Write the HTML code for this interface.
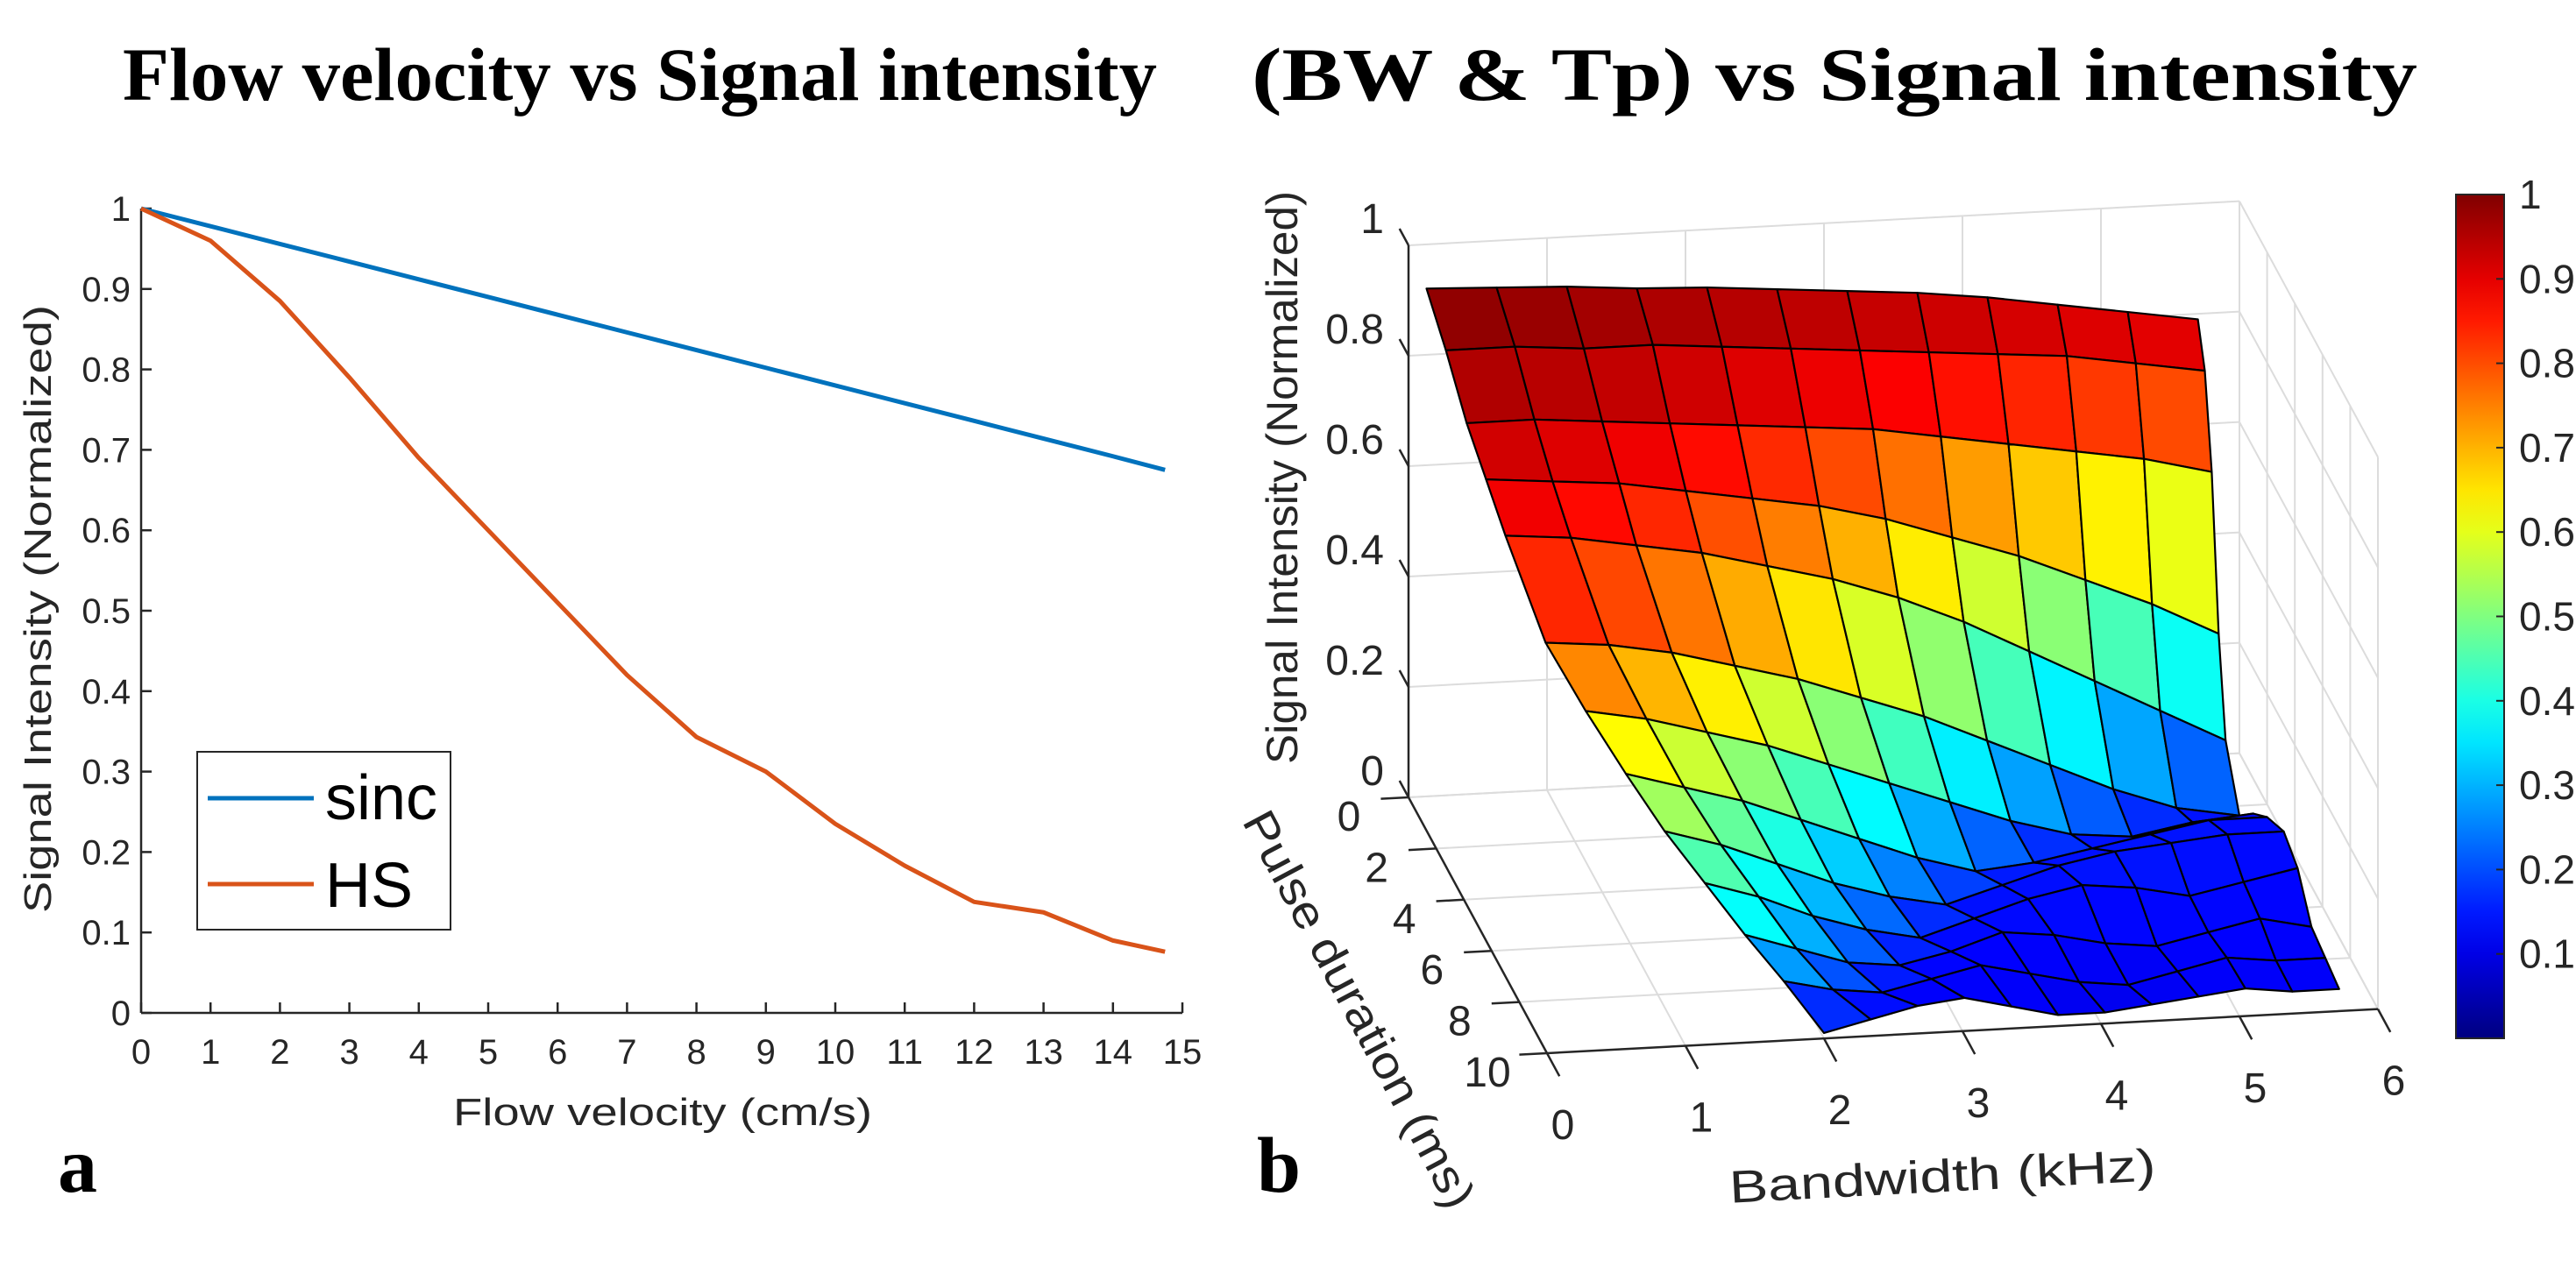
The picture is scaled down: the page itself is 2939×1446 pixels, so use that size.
<!DOCTYPE html>
<html><head><meta charset="utf-8"><style>
html,body{margin:0;padding:0;background:#fff;}
svg{display:block;}
text{font-family:"Liberation Sans",Arial,sans-serif;fill:#262626;}
.ttl{font-family:"Liberation Serif","Times New Roman",serif;font-weight:bold;fill:#000;}
</style></head><body>
<svg id="root" width="2939" height="1446" viewBox="0 0 2939 1446" xmlns="http://www.w3.org/2000/svg">
<text class="ttl" x="730" y="114" font-size="86" text-anchor="middle" textLength="1180" lengthAdjust="spacingAndGlyphs">Flow velocity vs Signal intensity</text>
<text class="ttl" x="2093" y="114" font-size="86" text-anchor="middle" textLength="1330" lengthAdjust="spacingAndGlyphs">(BW &amp; Tp) vs Signal intensity</text>
<text class="ttl" x="66" y="1360" font-size="90">a</text>
<text class="ttl" x="1434" y="1360" font-size="90">b</text>
<g id="left"></g>
<g id="right"></g>
</svg>
<script>
// ---------- Left chart data ----------
const velocities = [0,1,2,3,4,5,6,7,8,9,10,11,12,13,14,14.75];
const sincValues = [1,0.978,0.956,0.934,0.912,0.89,0.868,0.846,0.824,0.802,0.78,0.758,0.736,0.714,0.692,0.675];
const hsValues = [1,0.96,0.885,0.79,0.69,0.6,0.51,0.42,0.343,0.30,0.235,0.183,0.138,0.125,0.09,0.076];
const xTickLabels = ["0","1","2","3","4","5","6","7","8","9","10","11","12","13","14","15"];
const yTickLabels = ["0","0.1","0.2","0.3","0.4","0.5","0.6","0.7","0.8","0.9","1"];

// ---------- Right chart data ----------
const tpRows = [0,0.5,1,1.5,2,3,4,5,6,7,8,9,10];
const bwLeft = [0.13,0.22,0.32,0.41,0.50,0.69,0.88,1.07,1.25,1.44,1.63,1.81,2.0];
const bwRight = [5.7,5.7,5.7,5.7,5.7,5.7,5.7,5.7,5.72,5.72,5.72,5.72,5.72];
const zGrid = [
[.92,.915,.91,.90,.895,.885,.875,.865,.85,.83,.81,.79],
[.83,.83,.82,.82,.81,.80,.79,.78,.77,.76,.74,.72],
[.72,.72,.71,.70,.69,.68,.67,.65,.63,.61,.59,.56],
[.64,.63,.62,.60,.58,.56,.53,.49,.45,.40,.35,.29],
[.56,.55,.53,.51,.48,.45,.41,.36,.30,.24,.18,.12],
[.41,.40,.38,.35,.32,.28,.24,.19,.14,.09,.05,.03],
[.33,.31,.28,.25,.21,.17,.13,.09,.06,.05,.07,.08],
[.26,.23,.20,.16,.12,.08,.05,.06,.08,.10,.12,.12],
[.20,.17,.13,.09,.06,.04,.07,.10,.12,.13,.14,.14],
[.15,.12,.08,.05,.03,.06,.09,.11,.10,.08,.10,.12],
[.10,.07,.04,.03,.05,.08,.07,.05,.04,.06,.08,.06],
[.06,.04,.03,.05,.07,.05,.03,.02,.04,.06,.05,.05],
[.01,.03,.05,.06,.04,.02,.02,.03,.04,.05,.04,.04]];
const cGrid = [
[1.0,.99,.98,.97,.96,.955,.95,.945,.94,.935,.93,.93],
[.97,.97,.96,.95,.94,.93,.92,.91,.90,.89,.88,.87],
[.94,.93,.92,.91,.89,.87,.85,.83,.80,.77,.74,.72],
[.91,.90,.88,.85,.81,.77,.72,.66,.60,.54,.50,.46],
[.88,.86,.83,.79,.74,.69,.63,.56,.49,.41,.33,.25],
[.82,.79,.74,.68,.62,.55,.48,.40,.32,.24,.17,.14],
[.70,.66,.60,.54,.47,.40,.32,.24,.17,.13,.13,.13],
[.60,.55,.49,.42,.35,.27,.19,.14,.13,.14,.14,.13],
[.52,.46,.39,.31,.23,.16,.13,.14,.15,.15,.14,.13],
[.45,.38,.30,.22,.15,.13,.14,.14,.14,.13,.13,.13],
[.38,.30,.21,.14,.12,.13,.13,.12,.12,.13,.13,.12],
[.25,.18,.13,.12,.13,.12,.11,.11,.12,.12,.12,.12],
[.12,.12,.12,.12,.12,.11,.11,.11,.12,.12,.12,.12]];
const zTicks = [0,0.2,0.4,0.6,0.8,1];
const zTickLabels = ["0","0.2","0.4","0.6","0.8","1"];
const tpTicks = [0,2,4,6,8,10];
const tpTickLabels = ["0","2","4","6","8","10"];
const bwTicks = [0,1,2,3,4,5,6];
const bwTickLabels = ["0","1","2","3","4","5","6"];
const cbTicks = [0.1,0.2,0.3,0.4,0.5,0.6,0.7,0.8,0.9,1];
const cbTickLabels = ["0.1","0.2","0.3","0.4","0.5","0.6","0.7","0.8","0.9","1"];

const NS = "http://www.w3.org/2000/svg";
function mk(parent, tag, attrs, text){
  const e = document.createElementNS(NS, tag);
  for (const k in attrs) e.setAttribute(k, attrs[k]);
  if (text !== undefined) e.textContent = text;
  parent.appendChild(e);
  return e;
}

// ===== Left chart =====
(function(){
  const g = document.getElementById('left');
  const X0=161, X1=1349, Y0=1156, Y1=238;
  const sx = v => X0 + (v/15)*(X1-X0);
  const sy = v => Y0 - v*(Y0-Y1);
  let e;
  e = mk(g,'line',{x1:X0,y1:Y0,x2:X1,y2:Y0,stroke:'#262626','stroke-width':2.5});
  
  
  e = mk(g,'line',{x1:X0,y1:Y0,x2:X0,y2:Y1,stroke:'#262626','stroke-width':2.5});
  
  
  xTickLabels.forEach((lab,i)=>{
    const x = sx(i);
    const t = mk(g,'line',{x1:x,y1:Y0,x2:x,y2:Y0-12,stroke:'#262626','stroke-width':2.5});
    
    
    const tx = mk(g,'text',{x:x,y:Y0+58,'font-size':40,'text-anchor':'middle'},lab);
    
    
  });
  yTickLabels.forEach((lab,i)=>{
    const y = sy(i/10);
    const t = mk(g,'line',{x1:X0,y1:y,x2:X0+12,y2:y,stroke:'#262626','stroke-width':2.5});
    
    
    const tx = mk(g,'text',{x:X0-12,y:y+14,'font-size':40,'text-anchor':'end'},lab);
    
    
  });
  e = mk(g,'text',{x:756,y:1284,'font-size':44,'text-anchor':'middle',textLength:478,lengthAdjust:'spacingAndGlyphs'},'Flow velocity (cm/s)');
  
  
  e = mk(g,'text',{x:0,y:0,'font-size':44,'text-anchor':'middle',textLength:694,lengthAdjust:'spacingAndGlyphs',transform:'translate(58,695) rotate(-90)'},'Signal Intensity (Normalized)');
  
  
  const pts = arr => arr.map((v,i)=>sx(velocities[i])+','+sy(v)).join(' ');
  e = mk(g,'polyline',{points:pts(sincValues),fill:'none',stroke:'#0072BD','stroke-width':5,'stroke-linejoin':'round'});
  
  
  e = mk(g,'polyline',{points:pts(hsValues),fill:'none',stroke:'#D95319','stroke-width':5,'stroke-linejoin':'round'});
  
  
  const lg = mk(g,'g',{});
  
  
  mk(lg,'rect',{x:225,y:858,width:289,height:203,fill:'#fff',stroke:'#262626','stroke-width':2});
  e = mk(lg,'line',{x1:237,y1:911,x2:358,y2:911,stroke:'#0072BD','stroke-width':5});
  
  
  mk(lg,'text',{x:371,y:935,'font-size':72,style:'fill:#000'},'sinc');
  e = mk(lg,'line',{x1:237,y1:1009,x2:358,y2:1009,stroke:'#D95319','stroke-width':5});
  
  
  mk(lg,'text',{x:371,y:1035,'font-size':72,style:'fill:#000'},'HS');
})();

// ===== Right chart =====
(function(){
  const g = document.getElementById('right');
  const P = (b,t,z) => [1607+158*b+15.8*t, 910-8.4*b+29.2*t-630*z];
  const jet = v => {
    const c = x => Math.round(255*Math.max(0,Math.min(1,x)));
    return 'rgb('+c(1.5-Math.abs(4*v-3))+','+c(1.5-Math.abs(4*v-2))+','+c(1.5-Math.abs(4*v-1))+')';
  };
  const grid = '#dcdcdc';
  function ln(a,b,col,w,name){
    const e = mk(g,'line',{x1:a[0],y1:a[1],x2:b[0],y2:b[1],stroke:col,'stroke-width':w});
    
    
    return e;
  }
  bwTicks.forEach(b=>ln(P(b,0,0),P(b,0,1),grid,2,'back-grid-line'));
  zTicks.forEach(z=>ln(P(0,0,z),P(6,0,z),grid,2,'back-grid-line'));
  tpTicks.forEach(t=>ln(P(6,t,0),P(6,t,1),grid,2,'side-grid-line'));
  zTicks.forEach(z=>ln(P(6,0,z),P(6,10,z),grid,2,'side-grid-line'));
  bwTicks.forEach(b=>ln(P(b,0,0),P(b,10,0),grid,2,'floor-grid-line'));
  tpTicks.forEach(t=>ln(P(0,t,0),P(6,t,0),grid,2,'floor-grid-line'));
  ln(P(0,0,0),P(0,0,1),'#262626',2.5,'z-axis');
  ln(P(0,0,0),P(0,10,0),'#262626',2.5,'pulse-duration-axis');
  ln(P(0,10,0),P(6,10,0),'#262626',2.5,'bandwidth-axis');
  zTicks.forEach((z,i)=>{
    ln(P(0,0,z),P(0,-0.65,z),'#262626',2.5,'z-tick');
    const p = P(0,0,z);
    const e = mk(g,'text',{x:p[0]-28,y:p[1]-14,'font-size':48,'text-anchor':'end'},zTickLabels[i]);
    
    
  });
  tpTicks.forEach((t,i)=>{
    ln(P(0,t,0),P(-0.2,t,0),'#262626',2.5,'pulse-duration-tick');
    const p = P(0,t,0);
    const e = mk(g,'text',{x:p[0]-68,y:p[1]+38,'font-size':48,'text-anchor':'middle'},tpTickLabels[i]);
    
    
  });
  bwTicks.forEach((b,i)=>{
    ln(P(b,10,0),P(b,10.9,0),'#262626',2.5,'bandwidth-tick');
    const p = P(b,10,0);
    const e = mk(g,'text',{x:p[0]+18,y:p[1]+98,'font-size':48,'text-anchor':'middle'},bwTickLabels[i]);
    
    
  });
  let e = mk(g,'text',{x:0,y:0,'font-size':52,'text-anchor':'middle',textLength:487,lengthAdjust:'spacingAndGlyphs',transform:'translate(2217,1360) rotate(-3)'},'Bandwidth (kHz)');
  
  
  e = mk(g,'text',{x:0,y:0,'font-size':52,'text-anchor':'middle',textLength:505,lengthAdjust:'spacingAndGlyphs',transform:'translate(1535,1160) rotate(62)'},'Pulse duration (ms)');
  
  
  e = mk(g,'text',{x:0,y:0,'font-size':50,'text-anchor':'middle',textLength:654,lengthAdjust:'spacingAndGlyphs',transform:'translate(1480,545) rotate(-90)'},'Signal Intensity (Normalized)');
  
  

  const nc = zGrid[0].length;
  const node = (i,j) => {
    const b = bwLeft[i] + (bwRight[i]-bwLeft[i])*j/(nc-1);
    return P(b, tpRows[i], zGrid[i][j]);
  };
  const sg = mk(g,'g',{});
  
  
  for (let i=0;i<tpRows.length-1;i++){
    for (let j=0;j<nc-1;j++){
      const a=node(i,j), b=node(i,j+1), c=node(i+1,j+1), d=node(i+1,j);
      const cv=(cGrid[i][j]+cGrid[i][j+1]+cGrid[i+1][j]+cGrid[i+1][j+1])/4;
      const q = mk(sg,'polygon',{points:[a,b,c,d].map(p=>p.join(',')).join(' '),fill:jet(cv),stroke:'#000','stroke-width':2.2,'stroke-linejoin':'round'});
      
      
    }
  }

  const CX=2802, CW=55, CT=222, CB=1185;
  const defs = mk(g,'defs',{});
  const lgr = mk(defs,'linearGradient',{id:'jetg',x1:0,y1:1,x2:0,y2:0});
  for (let k=0;k<=20;k++){ mk(lgr,'stop',{offset:(k/20),'stop-color':jet(k/20)}); }
  e = mk(g,'rect',{x:CX,y:CT,width:CW,height:CB-CT,fill:'url(#jetg)',stroke:'#262626','stroke-width':2});
  
  
  cbTicks.forEach((v,i)=>{
    const y = CB - v*(CB-CT);
    if (v<1) ln([CX+CW-9,y],[CX+CW,y],'#262626',2,'colorbar-tick');
    const t = mk(g,'text',{x:2874,y:y+16,'font-size':46},cbTickLabels[i]);
    
    
  });
})();
</script>
</body></html>
